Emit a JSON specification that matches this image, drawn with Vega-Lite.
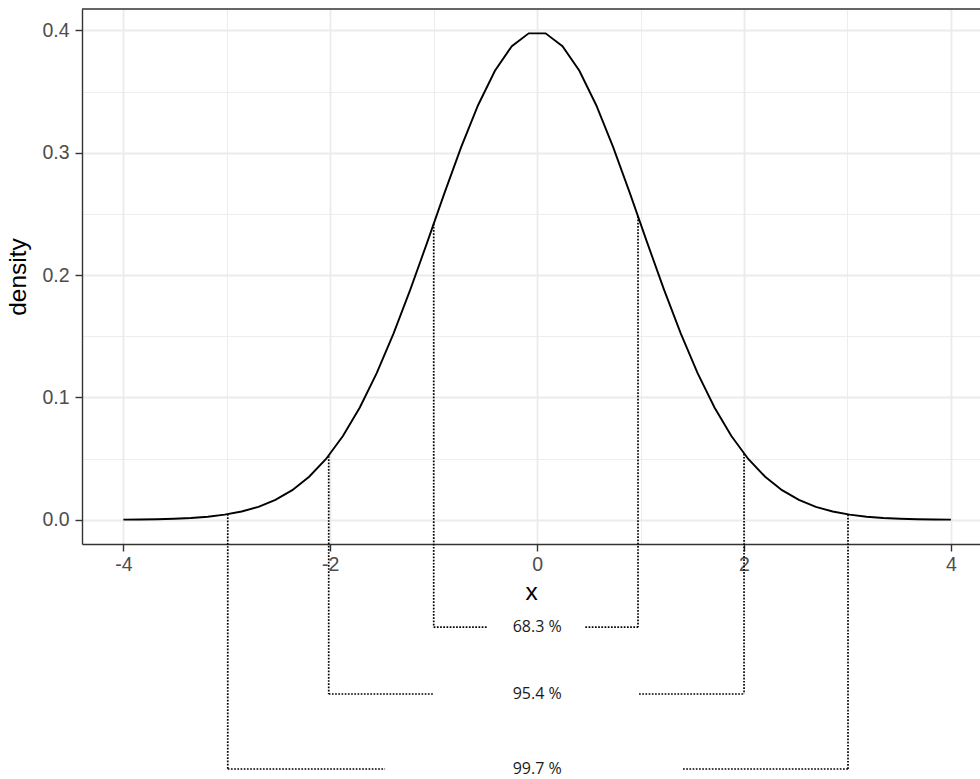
{
  "$schema": "https://vega.github.io/schema/vega-lite/v6.json",
  "autosize": {"type": "none"},
  "width": 898,
  "height": 535,
  "padding": {"left": 82, "top": 9, "right": 0, "bottom": 235},
  "background": "white",
  "config": {
    "view": {"stroke": null},
    "font": "Liberation Sans",
    "axis": {
      "labelFont": "Liberation Sans",
      "titleFont": "Liberation Sans",
      "labelFontSize": 19.5,
      "titleFontSize": 24.5,
      "titleFontWeight": "normal",
      "labelColor": "#4D4D4D",
      "titleColor": "#000000",
      "domainColor": "#333333",
      "domainWidth": 1.4,
      "tickColor": "#333333",
      "tickWidth": 1.4,
      "tickSize": 7,
      "gridColor": "#EBEBEB"
    }
  },
  "datasets": {
    "curve": [
      {"x": -4.0, "density": 0.000134},
      {"x": -3.8367, "density": 0.000254},
      {"x": -3.6735, "density": 0.000468},
      {"x": -3.5102, "density": 0.000842},
      {"x": -3.3469, "density": 0.001474},
      {"x": -3.1837, "density": 0.002511},
      {"x": -3.0204, "density": 0.004168},
      {"x": -2.8571, "density": 0.006734},
      {"x": -2.6939, "density": 0.010595},
      {"x": -2.5306, "density": 0.016229},
      {"x": -2.3673, "density": 0.024209},
      {"x": -2.2041, "density": 0.035157},
      {"x": -2.0408, "density": 0.049716},
      {"x": -1.8776, "density": 0.068454},
      {"x": -1.7143, "density": 0.091781},
      {"x": -1.551, "density": 0.119825},
      {"x": -1.3878, "density": 0.152296},
      {"x": -1.2245, "density": 0.188506},
      {"x": -1.0612, "density": 0.227172},
      {"x": -0.898, "density": 0.266566},
      {"x": -0.7347, "density": 0.304578},
      {"x": -0.5714, "density": 0.338846},
      {"x": -0.4082, "density": 0.367051},
      {"x": -0.2449, "density": 0.387157},
      {"x": -0.0816, "density": 0.397614},
      {"x": 0.0816, "density": 0.397614},
      {"x": 0.2449, "density": 0.387157},
      {"x": 0.4082, "density": 0.367051},
      {"x": 0.5714, "density": 0.338846},
      {"x": 0.7347, "density": 0.304578},
      {"x": 0.898, "density": 0.266566},
      {"x": 1.0612, "density": 0.227172},
      {"x": 1.2245, "density": 0.188506},
      {"x": 1.3878, "density": 0.152296},
      {"x": 1.551, "density": 0.119825},
      {"x": 1.7143, "density": 0.091781},
      {"x": 1.8776, "density": 0.068454},
      {"x": 2.0408, "density": 0.049716},
      {"x": 2.2041, "density": 0.035157},
      {"x": 2.3673, "density": 0.024209},
      {"x": 2.5306, "density": 0.016229},
      {"x": 2.6939, "density": 0.010595},
      {"x": 2.8571, "density": 0.006734},
      {"x": 3.0204, "density": 0.004168},
      {"x": 3.1837, "density": 0.002511},
      {"x": 3.3469, "density": 0.001474},
      {"x": 3.5102, "density": 0.000842},
      {"x": 3.6735, "density": 0.000468},
      {"x": 3.8367, "density": 0.000254},
      {"x": 4.0, "density": 0.000134}
    ],
    "vlines": [
      {"x": -1.0, "y": 0.242, "y2": -0.0878},
      {"x": 0.975, "y": 0.248, "y2": -0.0878},
      {"x": -2.015, "y": 0.052, "y2": -0.1424},
      {"x": 2.0, "y": 0.054, "y2": -0.1424},
      {"x": -2.991, "y": 0.0046, "y2": -0.2037},
      {"x": 3.005, "y": 0.0043, "y2": -0.2037}
    ],
    "hlines": [
      {"x": -1.0, "x2": -0.484, "y": -0.0878},
      {"x": 0.466, "x2": 0.975, "y": -0.0878},
      {"x": -2.015, "x2": -0.9995, "y": -0.1424},
      {"x": 0.985, "x2": 2.0, "y": -0.1424},
      {"x": -2.991, "x2": -1.47, "y": -0.2037},
      {"x": 1.41, "x2": 3.005, "y": -0.2037}
    ],
    "labels": [
      {"x": 0, "y": -0.0878, "label": "68.3 %"},
      {"x": 0, "y": -0.1424, "label": "95.4 %"},
      {"x": 0, "y": -0.2037, "label": "99.7 %"}
    ]
  },
  "layer": [
    {
      "data": {"name": "curve"},
      "mark": {"type": "line", "color": "#000000", "strokeWidth": 1.9, "clip": false},
      "encoding": {
        "x": {
          "field": "x", "type": "quantitative",
          "scale": {"domain": [-4.4, 4.281], "nice": false, "zero": false},
          "axis": {
            "orient": "bottom",
            "title": "x",
            "values": [-4, -3, -2, -1, 0, 1, 2, 3, 4],
            "labelExpr": "datum.value % 2 === 0 ? '' + datum.value : ''",
            "tickOpacity": {"condition": {"test": "datum.value % 2 !== 0", "value": 0}, "value": 1},
            "gridWidth": {"condition": {"test": "datum.value % 2 !== 0", "value": 0.9}, "value": 1.8},
            "grid": true,
            "labelPadding": 4,
            "titlePadding": 7,
            "labelFlush": false,
            "labelOverlap": false
          }
        },
        "y": {
          "field": "density", "type": "quantitative",
          "scale": {"domain": [-0.0198, 0.4175], "nice": false, "zero": false},
          "axis": {
            "orient": "left",
            "title": "density",
            "values": [0, 0.05, 0.1, 0.15, 0.2, 0.25, 0.3, 0.35, 0.4],
            "labelExpr": "round(datum.value * 20) % 2 === 0 ? format(datum.value, '.1f') : ''",
            "tickOpacity": {"condition": {"test": "round(datum.value * 20) % 2 !== 0", "value": 0}, "value": 1},
            "gridWidth": {"condition": {"test": "round(datum.value * 20) % 2 !== 0", "value": 0.9}, "value": 1.8},
            "grid": true,
            "labelPadding": 6,
            "titlePadding": 11,
            "labelFlush": false,
            "labelOverlap": false
          }
        }
      }
    },
    {
      "data": {"values": [{}]},
      "mark": {"type": "rule", "color": "#333333", "strokeWidth": 1.4, "clip": false},
      "encoding": {
        "y": {"datum": 0.4175, "type": "quantitative"}
      }
    },
    {
      "data": {"name": "vlines"},
      "mark": {"type": "rule", "color": "#000000", "strokeWidth": 1.7, "strokeDash": [1.7, 1.5], "clip": false},
      "encoding": {
        "x": {"field": "x", "type": "quantitative"},
        "y": {"field": "y", "type": "quantitative"},
        "y2": {"field": "y2"}
      }
    },
    {
      "data": {"name": "hlines"},
      "mark": {"type": "rule", "color": "#000000", "strokeWidth": 1.7, "strokeDash": [1.7, 1.5], "clip": false},
      "encoding": {
        "x": {"field": "x", "type": "quantitative"},
        "x2": {"field": "x2"},
        "y": {"field": "y", "type": "quantitative"}
      }
    },
    {
      "data": {"name": "labels"},
      "mark": {"type": "text", "font": "Open Sans", "fontSize": 16, "color": "#1a1a1a", "align": "center", "baseline": "middle", "clip": false},
      "encoding": {
        "x": {"field": "x", "type": "quantitative"},
        "y": {"field": "y", "type": "quantitative"},
        "text": {"field": "label"}
      }
    }
  ]
}
